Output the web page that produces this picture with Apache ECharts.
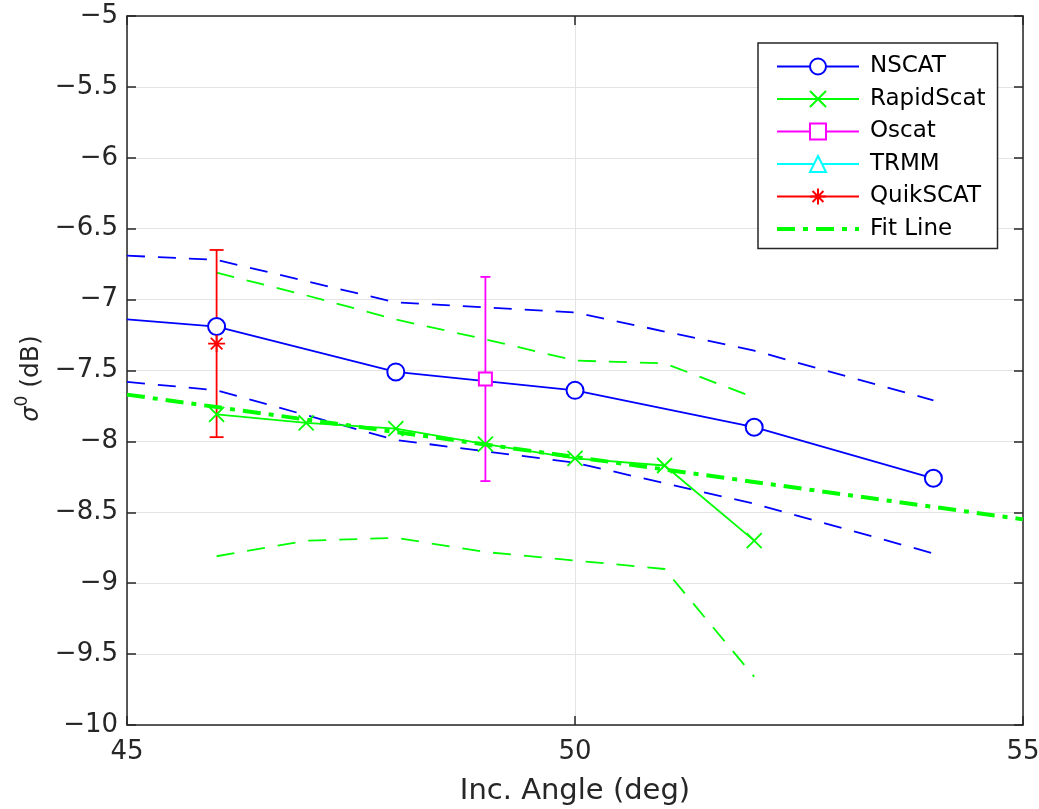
<!DOCTYPE html>
<html>
<head>
<meta charset="utf-8">
<script src="https://cdn.jsdelivr.net/npm/echarts@6/dist/echarts.min.js"></script>
<style>
  html, body { margin: 0; padding: 0; background: #fff; }
  #chart { width: 1039px; height: 809px; }
</style>
</head>
<body>
<div id="chart"></div>
<script>
// Backscatter vs. incidence angle for several scatterometers
const FONT = 'DejaVu Sans';

// NSCAT mean with +/- one standard deviation envelopes
const nscatAngle = [45, 46, 48, 50, 52, 54];
const nscatMean  = [-7.14, -7.19, -7.51, -7.64, -7.90, -8.26];
const nscatUpper = [-6.69, -6.72, -7.02, -7.09, -7.36, -7.71];
const nscatLower = [-7.58, -7.64, -7.99, -8.15, -8.44, -8.79];

// RapidScat mean with envelopes
const rapidAngle = [46, 47, 48, 49, 50, 51, 52];
const rapidMean  = [-7.81, -7.87, -7.91, -8.02, -8.12, -8.17, -8.70];
const rapidUpper = [-6.81, -6.97, -7.14, -7.28, -7.43, -7.45, -7.69];
const rapidLower = [-8.81, -8.70, -8.68, -8.78, -8.84, -8.90, -9.66];

// Single-angle instruments with error bars
const oscatAngle = [49];
const oscatMean  = [-7.56];
const oscatErr   = [0.72];

const quikAngle = [46];
const quikMean  = [-7.31];
const quikErr   = [0.66];

// TRMM has no samples in this angle range
const trmmAngle = [];
const trmmMean  = [];

// Linear fit endpoints
const fitAngle = [45, 55];
const fitValue = [-7.67, -8.55];

const BLUE = '#0000ff', GREEN = '#00ff00', MAGENTA = '#ff00ff', CYAN = '#00ffff', RED = '#ff0000';
const AXIS_COLOR = '#262626';
const LW = 1.8;
const ENV_DASH = [18, 13];
const FIT_DASH = [18, 8, 5, 8];

const zip = (xs, ys) => xs.map((x, i) => [x, ys[i]]);
const minus = v => String(v).replace('-', '\u2212');

const X_MARK = 'path://M0,0L10,10M10,0L0,10';
const STAR_MARK = 'path://M5,0L5,10M0,5L10,5M1.6,1.6L8.4,8.4M8.4,1.6L1.6,8.4';

function envelope(name, xs, ys, color) {
  return {
    name, type: 'line', data: zip(xs, ys), symbol: 'none', silent: true,
    lineStyle: { color, width: LW, type: ENV_DASH }, z: 2
  };
}

function errorBars(name, xs, mean, err, color, capHalf) {
  return {
    name, type: 'custom', silent: true, z: 3,
    encode: { x: 0, y: [1, 2] },
    data: xs.map((x, i) => [x, mean[i] - err[i], mean[i] + err[i]]),
    renderItem(params, api) {
      const lo = api.coord([api.value(0), api.value(1)]);
      const hi = api.coord([api.value(0), api.value(2)]);
      const style = { stroke: color, lineWidth: LW };
      return {
        type: 'group',
        children: [
          { type: 'line', shape: { x1: lo[0], y1: lo[1], x2: hi[0], y2: hi[1] }, style },
          { type: 'line', shape: { x1: lo[0] - capHalf, y1: lo[1], x2: lo[0] + capHalf, y2: lo[1] }, style },
          { type: 'line', shape: { x1: hi[0] - capHalf, y1: hi[1], x2: hi[0] + capHalf, y2: hi[1] }, style }
        ]
      };
    }
  };
}

const nscatData = zip(nscatAngle, nscatMean).map((p, i) =>
  nscatAngle[i] === 45 ? { value: p, symbol: 'none' } : p);

const tickStyle = { show: true, inside: true, length: 9, lineStyle: { color: AXIS_COLOR, width: 1.5 } };
const lineStyleAxis = { show: true, onZero: false, lineStyle: { color: AXIS_COLOR, width: 1.5 } };
const labelStyle = { fontFamily: FONT, fontSize: 26, color: AXIS_COLOR };

const option = {
  animation: false,
  backgroundColor: '#fff',
  grid: { left: 127, right: 16, top: 16, bottom: 84, containLabel: false, outerBoundsMode: 'none' },
  xAxis: [
    {
      type: 'value', min: 45, max: 55, interval: 5,
      axisLine: lineStyleAxis, axisTick: tickStyle,
      axisLabel: Object.assign({ margin: 14 }, labelStyle),
      splitLine: { show: true, lineStyle: { color: '#e4e4e4', width: 1 } },
      name: 'Inc. Angle (deg)', nameLocation: 'middle', nameGap: 52,
      nameTextStyle: { fontFamily: FONT, fontSize: 29, color: AXIS_COLOR }
    },
    {
      type: 'value', position: 'top', min: 45, max: 55, interval: 5,
      axisLine: lineStyleAxis, axisTick: tickStyle,
      axisLabel: { show: false }, splitLine: { show: false }
    }
  ],
  yAxis: [
    {
      type: 'value', min: -10, max: -5, interval: 0.5,
      axisLine: lineStyleAxis, axisTick: tickStyle,
      axisLabel: Object.assign({ margin: 9, formatter: minus }, labelStyle),
      splitLine: { show: true, lineStyle: { color: '#e4e4e4', width: 1 } },
      name: '{s|\u03c3}{p|0}{t| (dB)}', nameLocation: 'middle', nameGap: 72, nameRotate: 90,
      nameTextStyle: {
        color: AXIS_COLOR, lineHeight: 30, padding: [0, 16, 0, 0],
        rich: {
          s: { fontFamily: FONT, fontSize: 24, fontStyle: 'italic', color: AXIS_COLOR, verticalAlign: 'bottom' },
          p: { fontFamily: FONT, fontSize: 17, color: AXIS_COLOR, verticalAlign: 'top' },
          t: { fontFamily: FONT, fontSize: 25, color: AXIS_COLOR, verticalAlign: 'bottom' }
        }
      }
    },
    {
      type: 'value', position: 'right', min: -10, max: -5, interval: 0.5,
      axisLine: lineStyleAxis, axisTick: tickStyle,
      axisLabel: { show: false }, splitLine: { show: false }
    }
  ],
  legend: {
    orient: 'vertical', left: 758, top: 43,
    data: [
      'NSCAT', 'RapidScat', 'Oscat', 'TRMM', 'QuikSCAT',
      { name: 'Fit Line', itemStyle: { opacity: 0 }, lineStyle: { width: 4, type: FIT_DASH } }
    ],
    itemWidth: 82, itemHeight: 20, itemGap: 9.5,
    padding: [12, 12, 8, 17],
    backgroundColor: '#fff', borderColor: AXIS_COLOR, borderWidth: 1.5,
    selectedMode: false,
    textStyle: { fontFamily: FONT, fontSize: 23, color: '#000', padding: [0, 0, 0, 6] }
  },
  series: [
    envelope('NSCAT upper', nscatAngle, nscatUpper, BLUE),
    envelope('NSCAT lower', nscatAngle, nscatLower, BLUE),
    envelope('RapidScat upper', rapidAngle, rapidUpper, GREEN),
    envelope('RapidScat lower', rapidAngle, rapidLower, GREEN),
    {
      name: 'NSCAT', type: 'line', data: nscatData, z: 4,
      symbol: 'emptyCircle', symbolSize: 17,
      lineStyle: { color: BLUE, width: LW },
      itemStyle: { color: BLUE, borderColor: BLUE, borderWidth: LW }
    },
    {
      name: 'RapidScat', type: 'line', data: zip(rapidAngle, rapidMean), z: 4,
      symbol: X_MARK, symbolSize: 15,
      lineStyle: { color: GREEN, width: LW },
      itemStyle: { color: GREEN, borderColor: GREEN, borderWidth: LW }
    },
    errorBars('Oscat error', oscatAngle, oscatMean, oscatErr, MAGENTA, 5),
    {
      name: 'Oscat', type: 'line', data: zip(oscatAngle, oscatMean), z: 4,
      symbol: 'emptyRect', symbolSize: 13,
      lineStyle: { color: MAGENTA, width: LW },
      itemStyle: { color: MAGENTA, borderColor: MAGENTA, borderWidth: LW }
    },
    {
      name: 'TRMM', type: 'line', data: zip(trmmAngle, trmmMean), z: 4,
      symbol: 'emptyTriangle', symbolSize: 16,
      lineStyle: { color: CYAN, width: LW },
      itemStyle: { color: CYAN, borderColor: CYAN, borderWidth: LW }
    },
    errorBars('QuikSCAT error', quikAngle, quikMean, quikErr, RED, 7),
    {
      name: 'QuikSCAT', type: 'line', data: zip(quikAngle, quikMean), z: 4,
      symbol: STAR_MARK, symbolSize: 17,
      lineStyle: { color: RED, width: LW },
      itemStyle: { color: RED, borderColor: RED, borderWidth: LW }
    },
    {
      name: 'Fit Line', type: 'line', data: zip(fitAngle, fitValue), z: 5,
      symbol: 'none',
      lineStyle: { color: GREEN, width: 4, type: FIT_DASH },
      itemStyle: { color: GREEN }
    }
  ]
};

const chart = echarts.init(document.getElementById('chart'), null, { renderer: 'canvas' });
chart.setOption(option);
</script>
</body>
</html>
